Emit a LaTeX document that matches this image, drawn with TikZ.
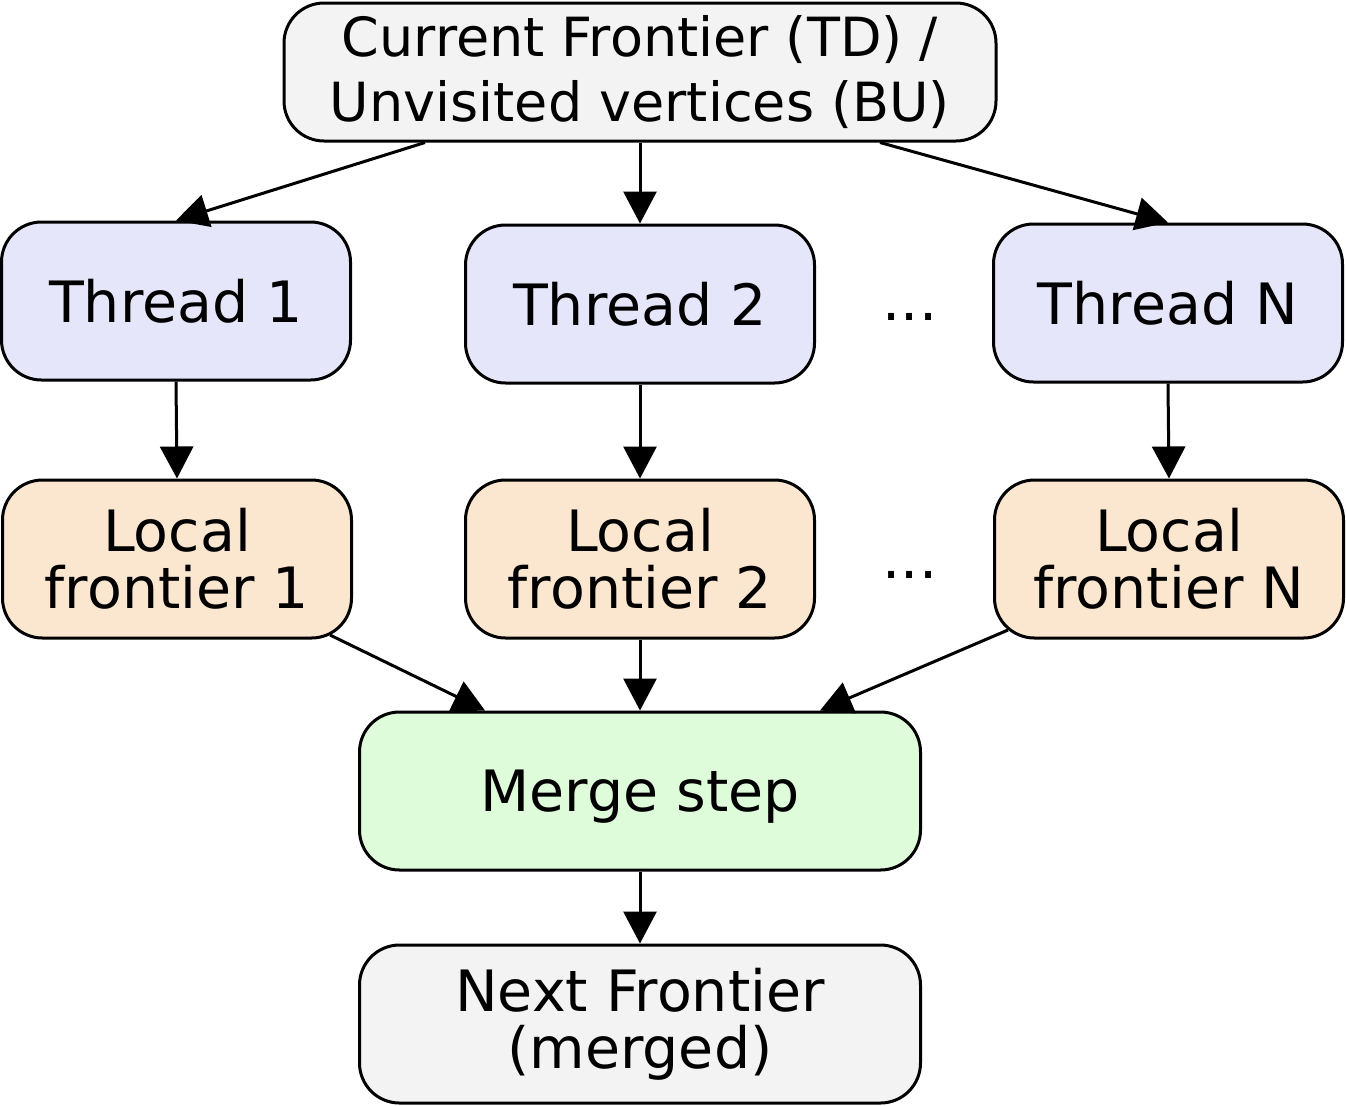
\documentclass[tikz,border=0pt]{standalone}
\usepackage{fontspec}
\setmainfont{DejaVu Sans}
\usetikzlibrary{shapes,arrows.meta}
\definecolor{frontgray}{HTML}{F3F3F3}
\definecolor{threadblue}{HTML}{E6E6FA}
\definecolor{localtan}{HTML}{FBE6CF}
\definecolor{mergegreen}{HTML}{DFFCDA}
\tikzstyle{roundbox}=[rectangle,rounded corners=20pt,draw=black,line width=1.5pt,align=center,font=\fontsize{28.5}{28.5}\selectfont]
\tikzstyle{frontbox}=[roundbox,fill=frontgray,minimum width=280.5pt,minimum height=79pt]
\tikzstyle{threadbox}=[roundbox,fill=threadblue,minimum width=174.5pt,minimum height=79pt,text depth=0pt]
\tikzstyle{localbox}=[roundbox,fill=localtan,minimum width=174.5pt,minimum height=79pt]
\tikzstyle{mergebox}=[roundbox,fill=mergegreen,minimum width=280.5pt,minimum height=79pt,text depth=0pt]
\tikzstyle{edge}=[line width=1.5pt,-{Triangle[length=16pt,width=16.5pt]}]

\begin{document}
\begin{tikzpicture}[x=0.5pt,y=-0.5pt]
    \useasboundingbox (0,0) rectangle (1346,1105);
    \node[frontbox,minimum width=356pt,minimum height=69pt,font=\fontsize{27}{32.5}\selectfont] (F) at (640,72)
        {Current Frontier (TD) /\\Unvisited vertices (BU)};
    \node[threadbox] (T1) at (176,301) {Thread 1};
    \node[threadbox] (T2) at (640,304) {Thread 2};
    \node[threadbox] (TN) at (1168,303) {Thread N};
    \node[localbox] (L1) at (177,559) {Local\\frontier 1};
    \node[localbox] (L2) at (640,559) {Local\\frontier 2};
    \node[localbox] (LN) at (1169,559) {Local\\frontier N};
    \node[font=\fontsize{28.5}{28.5}\selectfont,anchor=base,inner sep=0pt] (D1) at (910,320) {...};
    \node[font=\fontsize{28.5}{28.5}\selectfont,anchor=base,inner sep=0pt] (D2) at (910,578) {...};
    \node[mergebox] (M) at (640,791) {Merge step};
    \node[frontbox] (N) at (640,1024) {Next Frontier\\(merged)};
    % edges
    \draw[edge] ([xshift=-107.5pt]F.south) -- (T1.north);
    \draw[edge] (F.south) -- (T2.north);
    \draw[edge] ([xshift=120pt]F.south) -- (TN.north);
    \draw[edge] (T1.south) -- (L1.north);
    \draw[edge] (T2.south) -- (L2.north);
    \draw[edge] (TN.south) -- (LN.north);
    \draw[edge] ([shift={(76.5pt,-38pt)}]L1.center) -- ([xshift=-77.5pt]M.north);
    \draw[edge] (L2.south) -- (M.north);
    \draw[edge] ([shift={(-80.5pt,-35.5pt)}]LN.center) -- ([xshift=90pt]M.north);
    \draw[edge] (M.south) -- (N.north);
\end{tikzpicture}
\end{document}
